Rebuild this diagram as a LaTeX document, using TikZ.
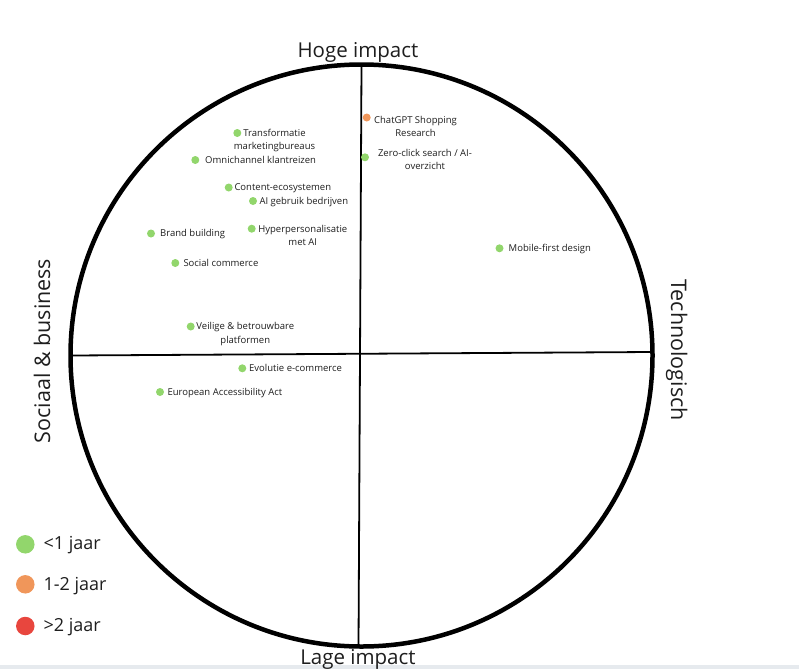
\documentclass[tikz,border=0pt]{standalone}
\usepackage{fontspec}
\setmainfont{Open Sans}
\usetikzlibrary{calc,positioning}
\definecolor{trendgreen}{RGB}{146,214,108}
\definecolor{trendorange}{RGB}{240,150,90}
\definecolor{trendred}{RGB}{232,70,62}
\definecolor{textgrey}{RGB}{30,30,30}
\definecolor{bandgrey}{RGB}{230,234,238}
\tikzset{
  wheel/.style   ={line width=4.5pt, black},
  axisline/.style={line width=1.8pt, black},
  tdot/.style    ={circle, fill=trendgreen, minimum size=8pt, inner sep=0pt},
  tdotorange/.style={tdot, fill=trendorange},
  tlabel/.style  ={font=\fontsize{9.5}{13.3}\selectfont, text=textgrey,
                   inner sep=0pt, align=center, anchor=base west},
  tlabelc/.style ={tlabel, anchor=base},
  axislabel/.style={font=\fontsize{20.5}{24}\selectfont, text=textgrey,
                    inner sep=0pt, anchor=base},
  sidelabel/.style={font=\fontsize{21.5}{26}\selectfont, text=textgrey,
                    inner sep=0pt, anchor=base},
  legdot/.style  ={circle, minimum size=18.5pt, inner sep=0pt},
  leglabel/.style={font=\fontsize{18}{22}\selectfont, text=textgrey,
                   inner sep=0pt, anchor=base west},
}
\begin{document}
\begin{tikzpicture}[x=1pt,y=-1pt]
  \useasboundingbox (0,0) rectangle (799,669);
  \fill[bandgrey] (0,665) rectangle (799,669);
  % wheel and axes
  \coordinate (c) at (361.5,355.5);
  \draw[wheel] (c) circle[radius=291pt];
  \coordinate (top) at (361.5,65);
  \coordinate (bot) at (358.5,646);
  \coordinate (lft) at (72,355.5);
  \coordinate (rgt) at (651,352);
  \draw[axisline] (top) -- (bot);
  \draw[axisline] (lft) -- (rgt);
  % axis labels
  \node[axislabel] (hoge) at (358,57) {Hoge impact};
  \node[axislabel] (lage) at (358,664) {Lage impact};
  \node[sidelabel, rotate=-90] (tech) at (671,350) {Technologisch};
  \node[sidelabel, rotate=90] (sociaal) at (50,351) {Sociaal \& business};
  % trends
  \node[tdot] (tm) at (237.3,133) {};
  \node[tlabelc] (tm-l) at ([xshift=37.2pt,yshift=-16.6pt]tm.center) {Transformatie\\marketingbureaus};
  \node[tdot] (oc) at (195.3,160) {};
  \node[tlabel] (oc-l) at ([xshift=9.7pt,yshift=-3.3pt]oc.center) {Omnichannel klantreizen};
  \node[tdot] (ce) at (228.7,187.5) {};
  \node[tlabel] (ce-l) at ([xshift=5.6pt,yshift=-3.3pt]ce.center) {Content-ecosystemen};
  \node[tdot] (ai) at (253,201) {};
  \node[tlabel] (ai-l) at ([xshift=6.3pt,yshift=-3.3pt]ai.center) {AI gebruik bedrijven};
  \node[tdot] (bb) at (151,233.5) {};
  \node[tlabel] (bb-l) at ([xshift=9pt,yshift=-3.3pt]bb.center) {Brand building};
  \node[tdot] (hp) at (251.7,228.7) {};
  \node[tlabelc] (hp-l) at ([xshift=51.1pt,yshift=-16.6pt]hp.center) {Hyperpersonalisatie\\met AI};
  \node[tdot] (sc) at (175.3,263) {};
  \node[tlabel] (sc-l) at ([xshift=8pt,yshift=-3.3pt]sc.center) {Social commerce};
  \node[tdot] (vb) at (190.7,326.5) {};
  \node[tlabelc] (vb-l) at ([xshift=54.6pt,yshift=-16.6pt]vb.center) {Veilige \& betrouwbare\\platformen};
  \node[tdot] (ev) at (242.3,368.3) {};
  \node[tlabel] (ev-l) at ([xshift=6.7pt,yshift=-3.3pt]ev.center) {Evolutie e-commerce};
  \node[tdot] (ea) at (160,392) {};
  \node[tlabel] (ea-l) at ([xshift=7.3pt,yshift=-3.3pt]ea.center) {European Accessibility Act};
  \node[tdotorange] (cg) at (366.7,117.5) {};
  \node[tlabelc] (cg-l) at ([xshift=48.8pt,yshift=-18.8pt]cg.center) {ChatGPT Shopping\\Research};
  \node[tdot] (zc) at (365,157.3) {};
  \node[tlabelc] (zc-l) at ([xshift=60pt,yshift=-12.5pt]zc.center) {Zero-click search / AI-\\overzicht};
  \node[tdot] (mf) at (499.5,248.3) {};
  \node[tlabel] (mf-l) at ([xshift=9pt,yshift=-3.3pt]mf.center) {Mobile-first design};
  % legend
  \node[legdot, fill=trendgreen] (leg1) at (25.3,544.3) {};
  \node[leglabel] (leg1-l) at ([xshift=18pt,yshift=-5.5pt]leg1.center) {<1 jaar};
  \node[legdot, fill=trendorange] (leg2) at (25.3,584.3) {};
  \node[leglabel] (leg2-l) at ([xshift=18pt,yshift=-6pt]leg2.center) {1-2 jaar};
  \node[legdot, fill=trendred] (leg3) at (25.3,626) {};
  \node[leglabel] (leg3-l) at ([xshift=18pt,yshift=-5.7pt]leg3.center) {>2 jaar};
\end{tikzpicture}
\end{document}
